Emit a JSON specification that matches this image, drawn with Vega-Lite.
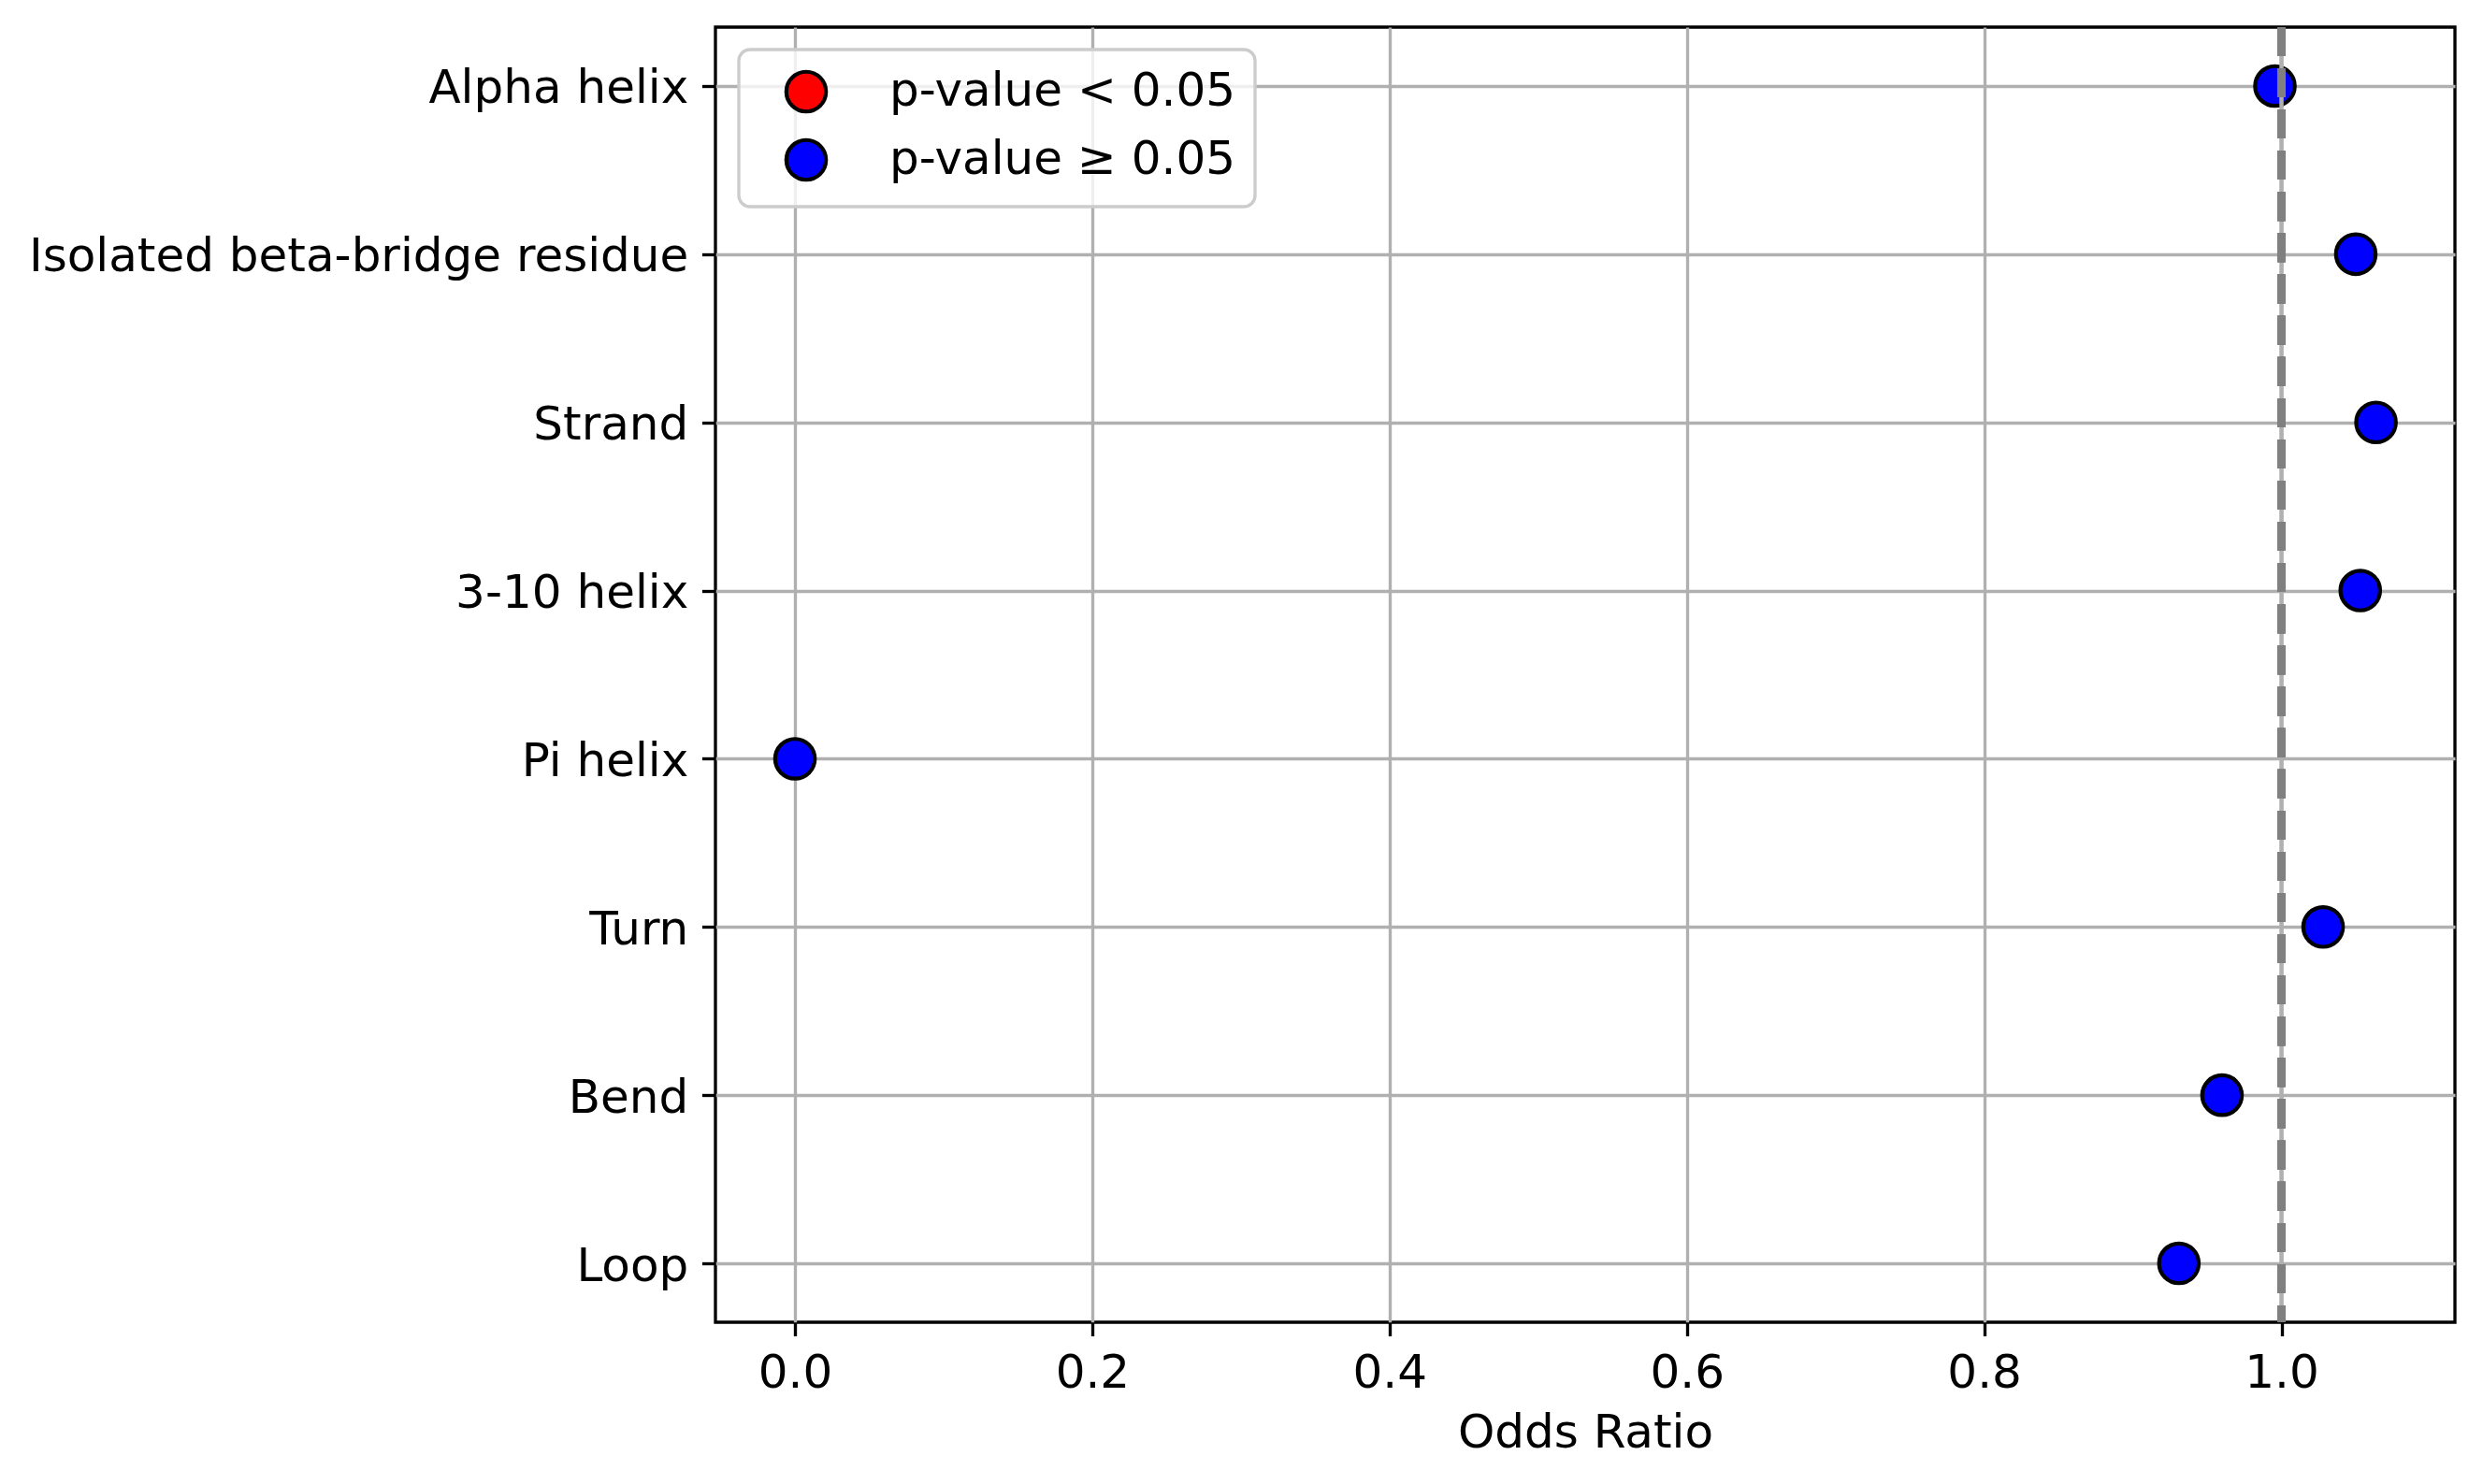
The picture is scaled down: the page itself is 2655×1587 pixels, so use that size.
{
  "$schema": "https://vega.github.io/schema/vega-lite/v6.json",
  "width": 1860,
  "height": 1385,
  "autosize": {"type": "none"},
  "padding": {"left": 765, "top": 29, "right": 30, "bottom": 173},
  "background": "white",
  "config": {
    "view": {"stroke": "black", "strokeWidth": 3.33},
    "font": "DejaVu Sans",
    "axis": {
      "labelFont": "DejaVu Sans",
      "labelFontSize": 50,
      "labelColor": "black",
      "labelLimit": 0,
      "titleFont": "DejaVu Sans",
      "titleFontSize": 50,
      "titleFontWeight": "normal",
      "titleColor": "black",
      "tickColor": "black",
      "tickWidth": 3.33,
      "tickSize": 14.6,
      "labelPadding": 14.6,
      "domain": false,
      "grid": true,
      "gridColor": "#b0b0b0",
      "gridWidth": 3.33,
      "zindex": 1
    },
    "legend": {
      "labelFont": "DejaVu Sans",
      "labelFontSize": 50,
      "labelColor": "black",
      "labelLimit": 0
    }
  },
  "data": {
    "values": [
      {"category": "Alpha helix", "odds_ratio": 0.9956, "significance": "p-value ≥ 0.05"},
      {"category": "Isolated beta-bridge residue", "odds_ratio": 1.050, "significance": "p-value ≥ 0.05"},
      {"category": "Strand", "odds_ratio": 1.0636, "significance": "p-value ≥ 0.05"},
      {"category": "3-10 helix", "odds_ratio": 1.053, "significance": "p-value ≥ 0.05"},
      {"category": "Pi helix", "odds_ratio": 0.0, "significance": "p-value ≥ 0.05"},
      {"category": "Turn", "odds_ratio": 1.028, "significance": "p-value ≥ 0.05"},
      {"category": "Bend", "odds_ratio": 0.960, "significance": "p-value ≥ 0.05"},
      {"category": "Loop", "odds_ratio": 0.931, "significance": "p-value ≥ 0.05"}
    ]
  },
  "layer": [
    {
      "mark": {"type": "point", "shape": "circle", "filled": true, "size": 1800, "stroke": "black", "strokeWidth": 4.17, "opacity": 1},
      "encoding": {
        "x": {
          "field": "odds_ratio",
          "type": "quantitative",
          "title": "Odds Ratio",
          "scale": {"domain": [-0.0535, 1.1167], "nice": false, "zero": false},
          "axis": {
            "values": [0, 0.2, 0.4, 0.6, 0.8, 1.0],
            "format": ".1f",
            "titlePadding": 14,
            "gridOpacity": {"condition": {"test": "datum.value === 1", "value": 0}, "value": 1}
          }
        },
        "y": {
          "field": "category",
          "type": "nominal",
          "title": null,
          "sort": null,
          "scale": {"type": "point", "padding": 0.35},
          "axis": {"labelAlign": "right", "labelOffset": 3}
        },
        "fill": {
          "field": "significance",
          "type": "nominal",
          "title": null,
          "scale": {"domain": ["p-value < 0.05", "p-value ≥ 0.05"], "range": ["#ff0000", "#0000ff"]},
          "legend": {
            "orient": "none",
            "legendX": 25,
            "legendY": 24,
            "padding": 20,
            "symbolType": "circle",
            "symbolSize": 1800,
            "symbolStrokeColor": "black",
            "symbolStrokeWidth": 4.17,
            "symbolOpacity": 1,
            "symbolOffset": 27,
            "labelOffset": 64,
            "rowPadding": 13,
            "fillColor": "rgba(255,255,255,0.8)",
            "strokeColor": "#cccccc",
            "cornerRadius": 12,
            "encode": {"legend": {"update": {"strokeWidth": {"value": 3.33}}}}
          }
        }
      }
    },
    {
      "mark": {"type": "rule", "color": "#b0b0b0", "strokeWidth": 3.33},
      "encoding": {"x": {"datum": 1.0}}
    },
    {
      "mark": {"type": "rule", "color": "#808080", "strokeWidth": 8.33, "strokeDash": [30.8, 13.3]},
      "encoding": {"x": {"datum": 1.0}}
    }
  ]
}
